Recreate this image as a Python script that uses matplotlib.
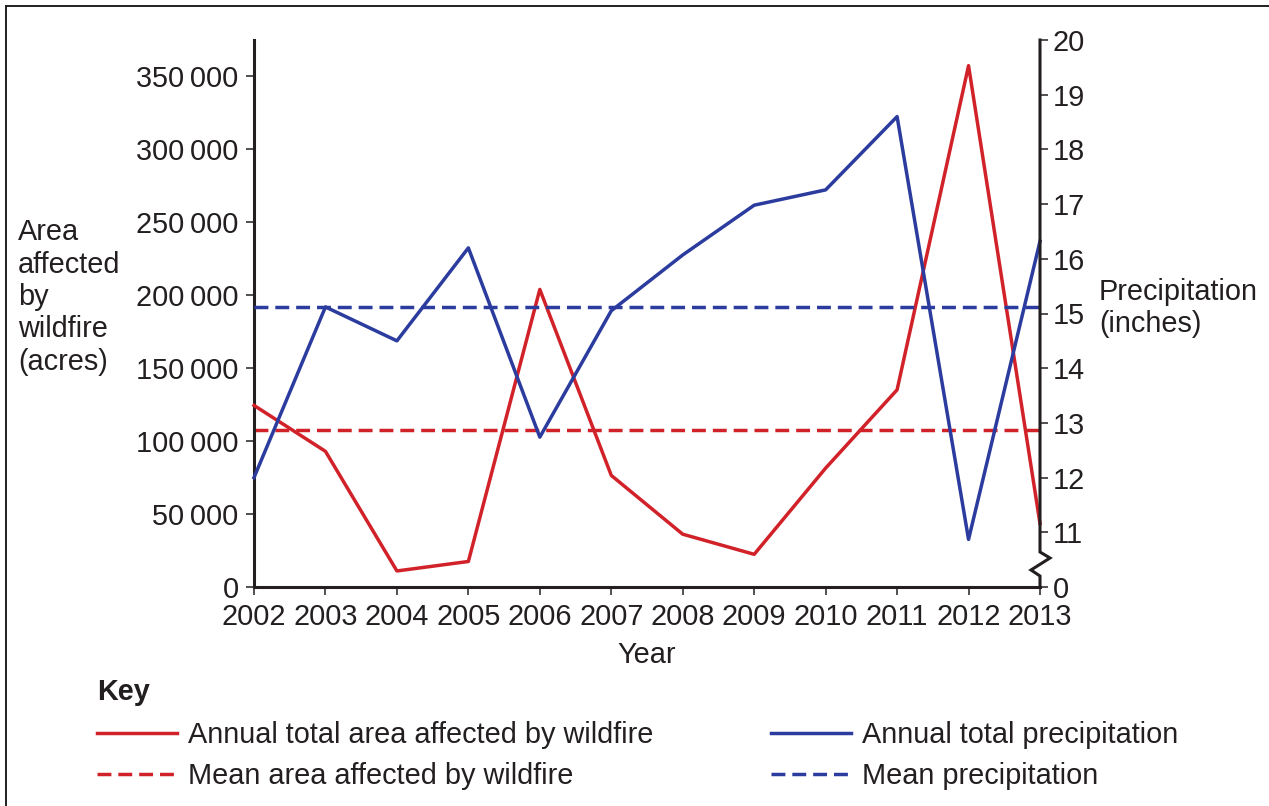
import matplotlib
matplotlib.use("Agg")
import matplotlib.pyplot as plt
from matplotlib.lines import Line2D

plt.rcParams["font.family"] = ["Liberation Sans", "DejaVu Sans"]

# values
YEARS = list(range(2002, 2014))
AREA = [124500, 93000, 11000, 17500, 204000, 76500,
        36200, 22400, 81500, 135200, 357400, 43500]
PRECIP = [12.0, 15.12, 14.5, 16.2, 12.74, 15.05,
          16.07, 16.98, 17.26, 18.6, 10.87, 16.32]
MEAN_AREA = 107500
MEAN_PRECIP = 15.12

AREA_TICKS = [0, 50000, 100000, 150000, 200000, 250000, 300000, 350000]
PRECIP_TICK_LABELS = ["0", "11", "12", "13", "14", "15",
                      "16", "17", "18", "19", "20"]
BREAK_OFFSET = 10  # right axis jumps from 0 straight to 11

RED = "#d12229"
BLUE = "#2b3c9e"
INK = "#231f20"
FS = 20.8

W, H = 1269, 806
fig = plt.figure(figsize=(W / 100, H / 100), dpi=100)


def fx(px):
    return px / W


def fy(py):
    return 1 - py / H


ax = fig.add_axes([fx(254), fy(587), fx(1040 - 254), (587 - 40) / H])
ax2 = ax.twinx()

ax.set_xlim(YEARS[0], YEARS[-1])
ax.set_ylim(0, 375000)
ax2.set_ylim(0, 10)

dash = (0, (4, 2))
ax.plot(YEARS, AREA, color=RED, lw=2.5, clip_on=False,
        label="Annual total area affected by wildfire", zorder=3)
ax.plot([YEARS[0], YEARS[-1]], [MEAN_AREA, MEAN_AREA], color=RED, lw=2.5,
        ls=dash, label="Mean area affected by wildfire")
shifted = [p - BREAK_OFFSET for p in PRECIP]
ax2.plot(YEARS, shifted, color=BLUE, lw=2.5, clip_on=False,
         label="Annual total precipitation")
ax2.plot([YEARS[0], YEARS[-1]], [MEAN_PRECIP - BREAK_OFFSET] * 2,
         color=BLUE, lw=2.5, ls=dash, label="Mean precipitation")

# axes styling
for a in (ax, ax2):
    for s in a.spines.values():
        s.set_visible(False)
ax.spines["left"].set_visible(True)
ax.spines["bottom"].set_visible(True)
for s in ("left", "bottom"):
    ax.spines[s].set_linewidth(2.2)
    ax.spines[s].set_color(INK)

ax.set_xticks(YEARS)
ax.set_xticklabels([str(y) for y in YEARS])
ax.set_yticks(AREA_TICKS)
ax.set_yticklabels([f"{v:,}".replace(",", "\u2009") for v in AREA_TICKS])
ax.tick_params(axis="x", length=6, width=1.1, color=INK, labelsize=FS,
               labelcolor=INK, pad=5.5)
ax.tick_params(axis="y", length=6, width=1.1, color=INK, labelsize=FS,
               labelcolor=INK, pad=5)

ax2.set_yticks(range(11))
ax2.set_yticklabels(PRECIP_TICK_LABELS)
ax2.tick_params(axis="y", length=6, width=1.1, color=INK, labelsize=FS,
                labelcolor=INK, pad=3)

# right spine with the zigzag break
tr = ax2.get_yaxis_transform()
zx = [1, 1, 1 + 10 / 786, 1 - 9 / 786, 1, 1]
zy = [10, 35 / 54.7, 29 / 54.7, 17 / 54.7, 11 / 54.7, 0]
ax2.add_line(Line2D(zx, zy, transform=tr, color=INK, lw=2.2,
                    clip_on=False, solid_joinstyle="miter"))

# axis titles
fig.text(fx(18), fy(297), "Area\naffected\nby\nwildfire\n(acres)",
         ha="left", va="center", fontsize=FS, color=INK, linespacing=1.2)
fig.text(fx(1099), fy(308), "Precipitation\n(inches)", ha="left",
         va="center", fontsize=FS, color=INK, linespacing=1.2)
fig.text(fx(647), fy(655), "Year", ha="center", va="center",
         fontsize=FS, color=INK)

# key
fig.text(fx(97), fy(692), "Key", ha="left", va="center", fontsize=FS,
         weight="bold", color=INK)
handles = ax.get_lines() + ax2.get_lines()[:2]
fig.legend(handles=handles, labels=[h.get_label() for h in handles],
           loc="upper left", bbox_to_anchor=(fx(97), fy(721)), ncol=2,
           frameon=False, fontsize=FS, borderpad=0, borderaxespad=0,
           handlelength=2.77, handletextpad=0.38, columnspacing=4.08,
           labelspacing=0.45, labelcolor=INK)

# thin frame round the figure (top and left visible)
fig.add_artist(Line2D([fx(6), 1], [fy(6), fy(6)], transform=fig.transFigure,
                      color=INK, lw=1.4))
fig.add_artist(Line2D([fx(6), fx(6)], [0, fy(6)], transform=fig.transFigure,
                      color=INK, lw=1.4))

fig.savefig("out.png", dpi=100, facecolor="white")
